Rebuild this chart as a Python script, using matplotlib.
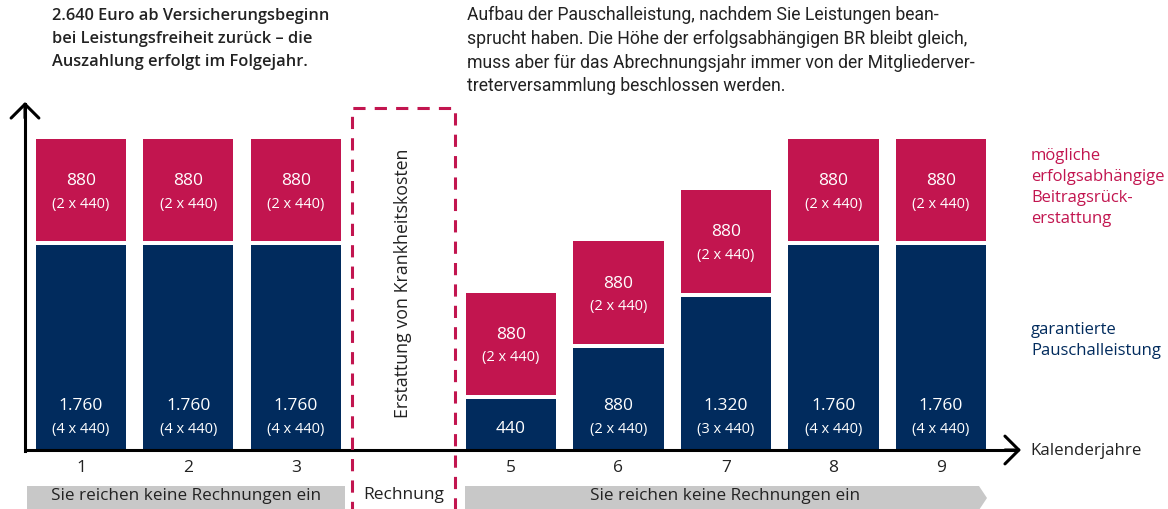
import matplotlib
matplotlib.use("Agg")
import matplotlib.pyplot as plt
from matplotlib.patches import Rectangle, Polygon

# --- data ---------------------------------------------------------------
years = [1, 2, 3, 5, 6, 7, 8, 9]
garantiert = [1760, 1760, 1760, 440, 880, 1320, 1760, 1760]
garantiert_faktor = ["4 x 440", "4 x 440", "4 x 440", None, "2 x 440", "3 x 440", "4 x 440", "4 x 440"]
erfolg = [880, 880, 880, 880, 880, 880, 880, 880]
erfolg_faktor = ["2 x 440"] * 8
claim_year = 4

title_left = "2.640 Euro ab Versicherungsbeginn\nbei Leistungsfreiheit zurück – die\nAuszahlung erfolgt im Folgejahr."
title_right = ("Aufbau der Pauschalleistung, nachdem Sie Leistungen bean-\n"
               "sprucht haben. Die Höhe der erfolgsabhängigen BR bleibt gleich,\n"
               "muss aber für das Abrechnungsjahr immer von der Mitgliederver-\n"
               "treterversammlung beschlossen werden.")
legend_pink = "mögliche\nerfolgsabhängige\nBeitragsrück-\nerstattung"
legend_navy = "garantierte\nPauschalleistung"
banner_text = "Sie reichen keine Rechnungen ein"

NAVY = "#012B5D"
PINK = "#C2154F"
GRAY = "#C8C8C8"
TXT = "#222222"
FONT = "Open Sans"

# --- layout helpers (pixel -> data) -------------------------------------
W, H = 1168, 509
SLOT = 107.5      # px per year slot
X0 = 81           # px centre of year 1
BASE = 450        # px of the baseline
PX = 8.6          # euro per px


def xpx(p):
    return (p - X0) / SLOT + 1


def ypx(p):
    return (BASE - p) * PX


def fmt(v):
    return f"{v:,}".replace(",", ".")


fig = plt.figure(figsize=(W / 100, H / 100), dpi=100)
ax = fig.add_axes([0, 0, 1, 1])
ax.set_xlim(xpx(0), xpx(W))
ax.set_ylim(ypx(H), ypx(0))
ax.axis("off")

gap = 4 * PX
bw = 90 / SLOT
ax.bar(years, garantiert, width=bw, color=NAVY, zorder=2)
pink_bottom = [g + gap for g in garantiert]
ax.bar(years, erfolg, bottom=pink_bottom, width=bw, color=PINK, zorder=2)

# labels inside bars
for x, g, gf, b, e, ef in zip(years, garantiert, garantiert_faktor, pink_bottom, erfolg, erfolg_faktor):
    if gf:
        ax.annotate(fmt(g), (x, 0), xytext=(0, 44 * 0.72), textcoords="offset points",
                    ha="center", va="center", color="white", fontsize=12.5, family=FONT, zorder=4)
        ax.annotate(f"({gf})", (x, 0), xytext=(0, 21 * 0.72), textcoords="offset points",
                    ha="center", va="center", color="white", fontsize=10.5, family=FONT, zorder=4)
    else:
        ax.annotate(fmt(g), (x, 0), xytext=(0, 21 * 0.72), textcoords="offset points",
                    ha="center", va="center", color="white", fontsize=12.5, family=FONT, zorder=4)
    mid = b + e / 2
    ax.annotate(fmt(e), (x, mid), xytext=(0, 9 * 0.72), textcoords="offset points",
                ha="center", va="center", color="white", fontsize=12.5, family=FONT, zorder=4)
    ax.annotate(f"({ef})", (x, mid), xytext=(0, -14 * 0.72), textcoords="offset points",
                ha="center", va="center", color="white", fontsize=10.5, family=FONT, zorder=4)
    ax.text(x, ypx(468), str(x), ha="center", va="center", fontsize=12.5, family=FONT, color=TXT)

# axes with arrows
ax.plot([xpx(25), xpx(1018)], [0, 0], color="black", lw=2.2, zorder=3, solid_capstyle="butt")
ax.plot([xpx(25), xpx(25)], [ypx(451), ypx(104)], color="black", lw=2.2, zorder=3)
ax.annotate("", xy=(xpx(1021), 0), xytext=(xpx(1005), 0),
            arrowprops=dict(arrowstyle="->,head_length=0.5,head_width=0.5", lw=2.2,
                            color="black", mutation_scale=20, shrinkA=0, shrinkB=0), zorder=3)
ax.annotate("", xy=(xpx(25), ypx(102)), xytext=(xpx(25), ypx(118)),
            arrowprops=dict(arrowstyle="->,head_length=0.5,head_width=0.5", lw=2.2,
                            color="black", mutation_scale=20, shrinkA=0, shrinkB=0), zorder=3)
ax.text(xpx(1030), ypx(451), "Kalenderjahre", ha="left", va="center", fontsize=12.2,
        family=FONT, color=TXT)

# dashed claim box
ax.add_patch(Rectangle((xpx(352), ypx(520)), xpx(455) - xpx(352), ypx(108) - ypx(520),
                       fill=False, ec=PINK, lw=2.2, ls=(0, (4, 3)), zorder=3))
ax.text(claim_year, ypx(283), "Erstattung von Krankheitskosten", rotation=90,
        ha="center", va="center", fontsize=12.8, family=FONT, color=TXT)
ax.text(claim_year, ypx(495), "Rechnung", ha="center", va="center", fontsize=12.5,
        family=FONT, color=TXT)

# gray banners
ax.add_patch(Rectangle((xpx(27), ypx(515)), xpx(345) - xpx(27), ypx(486) - ypx(515),
                       color=GRAY, lw=0, zorder=1))
ax.add_patch(Polygon([(xpx(465), ypx(486)), (xpx(979), ypx(486)), (xpx(987), ypx(498)),
                      (xpx(979), ypx(510)), (xpx(465), ypx(510))], closed=True,
                     color=GRAY, lw=0, zorder=1))
ax.text(xpx(186), ypx(496), banner_text, ha="center", va="center", fontsize=12.3,
        family=FONT, color=TXT)
ax.text(xpx(725), ypx(496), banner_text, ha="center", va="center", fontsize=12.3,
        family=FONT, color=TXT)

# titles and legend text
fig.text(52 / W, 1 - 8 / H, title_left, ha="left", va="top", fontsize=11.8,
         family=FONT, weight="semibold", color=TXT, linespacing=1.6)
fig.text(467 / W, 1 - 6 / H, title_right, ha="left", va="top", fontsize=12.7,
         family="Roboto", color=TXT, linespacing=1.4)
fig.text(1031 / W, 1 - 148 / H, legend_pink, ha="left", va="top", fontsize=12,
         family=FONT, color=PINK, linespacing=1.42)
fig.text(1031 / W, 1 - 322 / H, legend_navy, ha="left", va="top", fontsize=12,
         family=FONT, color=NAVY, linespacing=1.42)

fig.savefig("out.png", dpi=100)
